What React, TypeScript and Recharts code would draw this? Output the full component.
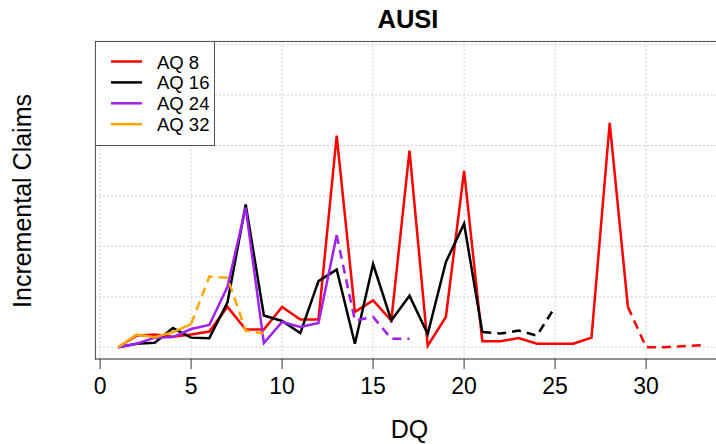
import React from 'react';
import { LineChart, Line, XAxis, YAxis, CartesianGrid } from 'recharts';

// Development quarter (x) values
const dq = [1, 2, 3, 4, 5, 6, 7, 8, 9, 10, 11, 12, 13, 14, 15, 16, 17, 18, 19, 20, 21, 22, 23, 24, 25, 26, 27, 28, 29, 30, 31, 32, 33];

// Incremental claims per accident quarter (arbitrary units)
const aq8 = [0, 0.23, 0.25, 0.21, 0.25, 0.31, 0.8, 0.35, 0.35, 0.8, 0.55, 0.55, 4.2, 0.7, 0.93, 0.53, 3.9, 0.03, 0.6, 3.5, 0.12, 0.12, 0.18, 0.07, 0.07, 0.07, 0.19, 4.45, 0.8, 0, 0, 0.02, 0.04];
const aq16 = [0, 0.07, 0.09, 0.38, 0.19, 0.18, 0.89, 2.83, 0.63, 0.52, 0.28, 1.31, 1.54, 0.07, 1.65, 0.53, 1.02, 0.26, 1.69, 2.45, 0.3, 0.27, 0.33, 0.23, 0.8];
const aq24 = [0, 0.07, 0.19, 0.2, 0.36, 0.44, 1.2, 2.77, 0.08, 0.5, 0.4, 0.48, 2.22, 0.53, 0.6, 0.17, 0.17];
const aq32 = [0, 0.25, 0.2, 0.3, 0.46, 1.4, 1.38, 0.33, 0.27];

const seriesNames = ['AQ 8', 'AQ 16', 'AQ 24', 'AQ 32'];
const seriesKeys = ['aq8', 'aq16', 'aq24', 'aq32'];
const seriesColors = ['#FF0000', '#000000', '#A020F0', '#FFA500'];
const seriesValues = [aq8, aq16, aq24, aq32];
const projectedCount = 4;

const xTicks = [0, 5, 10, 15, 20, 25, 30];
const yTicks = [0, 1, 2, 3, 4, 5, 6];

const title = 'AUSI';
const xLabel = 'DQ';
const yLabel = 'Incremental Claims';

const data = dq.map((q, i) => {
  const row: Record<string, number | null> = { dq: q };
  seriesValues.forEach((vals, s) => {
    const n = vals.length;
    const v = i < n ? vals[i] : null;
    const key = seriesKeys[s];
    row[key + 's'] = v !== null && i <= n - 1 - projectedCount ? v : null;
    row[key + 'd'] = v !== null && i >= n - 1 - projectedCount ? v : null;
  });
  return row;
});

const FONT = '"Liberation Sans", Arial, Helvetica, sans-serif';

const LegendBox = () => (
  <div
    style={{
      position: 'absolute',
      left: 95,
      top: 41,
      width: 120,
      height: 105,
      boxSizing: 'border-box',
      border: '1px solid #555',
      background: '#fff',
    }}
  >
    <svg width={118} height={103} style={{ display: 'block' }}>
      {seriesNames.map((name, i) => {
        const y = 19.5 + i * 20.9;
        return (
          <g key={name}>
            <line x1={15} x2={46} y1={y} y2={y} stroke={seriesColors[i]} strokeWidth={2.5} />
            <text x={61} y={y + 7} fontSize={18.5} fontFamily={FONT} fill="#000">
              {name}
            </text>
          </g>
        );
      })}
    </svg>
  </div>
);

export default function App() {
  return (
    <div
      style={{
        position: 'absolute',
        left: 0,
        top: 0,
        width: 716,
        height: 444,
        overflow: 'hidden',
        background: '#fff',
        fontFamily: FONT,
      }}
    >
      <LineChart
        width={730}
        height={444}
        data={data}
        margin={{ top: 41, right: 6, bottom: 45, left: 95 }}
      >
        <CartesianGrid stroke="#d0d0d0" strokeDasharray="2 2" />
        <XAxis
          dataKey="dq"
          type="number"
          domain={[-0.28, 34.28]}
          allowDataOverflow
          ticks={xTicks}
          interval={0}
          height={40}
          tickSize={10}
          tickMargin={9}
          axisLine={{ stroke: '#333', strokeWidth: 1 }}
          tickLine={{ stroke: '#333', strokeWidth: 1 }}
          tick={{ fontSize: 23, fill: '#000', fontFamily: FONT }}
        />
        <YAxis
          hide
          type="number"
          domain={[-0.234, 6.075]}
          allowDataOverflow
          ticks={yTicks}
          interval={0}
        />
        {seriesKeys.map((k, i) => [
          <Line
            key={k + 's'}
            dataKey={k + 's'}
            type="linear"
            stroke={seriesColors[i]}
            strokeWidth={2.5}
            dot={false}
            activeDot={false}
            isAnimationActive={false}
          />,
          <Line
            key={k + 'd'}
            dataKey={k + 'd'}
            type="linear"
            stroke={seriesColors[i]}
            strokeWidth={2.5}
            strokeDasharray="9 6"
            dot={false}
            activeDot={false}
            isAnimationActive={false}
          />,
        ])}
      </LineChart>
      <div
        style={{
          position: 'absolute',
          left: 95,
          top: 41,
          width: 700,
          height: 318,
          borderLeft: '1px solid #555',
          borderTop: '1px solid #555',
          pointerEvents: 'none',
        }}
      />
      <LegendBox />
      <svg
        width={716}
        height={444}
        style={{ position: 'absolute', left: 0, top: 0, pointerEvents: 'none' }}
      >
        <text x={408} y={28} textAnchor="middle" fontSize={25.5} fontWeight="bold" fontFamily={FONT} fill="#000">
          {title}
        </text>
        <text x={409.5} y={438} textAnchor="middle" fontSize={25} fontFamily={FONT} fill="#000">
          {xLabel}
        </text>
        <text
          x={0}
          y={0}
          textAnchor="middle"
          fontSize={25}
          fontFamily={FONT}
          fill="#000"
          transform="translate(31,201) rotate(-90)"
        >
          {yLabel}
        </text>
      </svg>
    </div>
  );
}
